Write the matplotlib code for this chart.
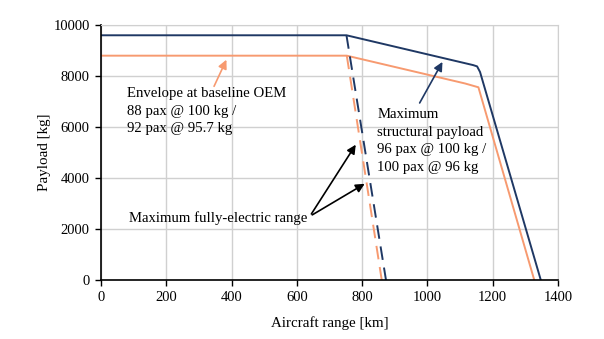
import matplotlib
matplotlib.use('Agg')
from matplotlib import pyplot as plt

# payload-range envelopes (km, kg)
max_range = [0, 752, 1140, 1152, 1161, 1347]
max_payload = [9600, 9600, 8430, 8380, 8160, 0]
oem_range = [0, 753, 1115, 1156, 1327]
oem_payload = [8800, 8800, 7710, 7560, 0]

# fully-electric limits
elec_max_range = [752, 873]
elec_max_payload = [9600, 0]
elec_oem_range = [753, 860]
elec_oem_payload = [8800, 0]

xticks = [0, 200, 400, 600, 800, 1000, 1200, 1400]
yticks = [0, 2000, 4000, 6000, 8000, 10000]

navy = '#1F3864'
orange = '#F79A70'

plt.rcParams['font.family'] = 'Liberation Serif'
plt.rcParams['font.size'] = 10.5

fig = plt.figure(figsize=(6.04, 3.39), dpi=100)
ax = fig.add_axes([0.167, 0.174, 0.757, 0.752])

ax.plot(max_range, max_payload, color=navy, lw=1.4)
ax.plot(oem_range, oem_payload, color=orange, lw=1.4)
ax.plot(elec_max_range, elec_max_payload, color=navy, lw=1.4, dashes=(7, 4))
ax.plot(elec_oem_range, elec_oem_payload, color=orange, lw=1.4, dashes=(7, 4))

ax.set_xlim(0, 1400)
ax.set_ylim(0, 10000)
ax.set_xticks(xticks)
ax.set_yticks(yticks)
ax.grid(True, color='#D0D0D0', lw=1)
ax.set_axisbelow(True)
for s in ['top', 'right']:
    ax.spines[s].set_color('#D0D0D0')
for s in ['left', 'bottom']:
    ax.spines[s].set_linewidth(1.2)
ax.tick_params(length=4, width=1, direction='out', labelsize=10.5, pad=4)

ax.set_xlabel('Aircraft range [km]', fontsize=10.8, labelpad=9)
ax.set_ylabel('Payload [kg]', fontsize=10.8, labelpad=2)

tk = dict(va='top', ha='left', linespacing=1.45, fontsize=10.6)
ax.text(80, 7560, 'Envelope at baseline OEM\n88 pax @ 100 kg /\n92 pax @ 95.7 kg', **tk)
ax.annotate('', xy=(388, 8740), xytext=(343, 7500),
            arrowprops=dict(arrowstyle='-|>', color=orange, lw=1.2, mutation_scale=13))

ax.text(846, 6730, 'Maximum\nstructural payload\n96 pax @ 100 kg /\n100 pax @ 96 kg', **tk)
ax.annotate('', xy=(1050, 8650), xytext=(972, 6850),
            arrowprops=dict(arrowstyle='-|>', color=navy, lw=1.2, mutation_scale=13))

ax.text(86, 2430, 'Maximum fully-electric range', va='center', ha='left', fontsize=10.6)
ax.annotate('', xy=(785, 5400), xytext=(640, 2500),
            arrowprops=dict(arrowstyle='-|>', color='black', lw=1.2, mutation_scale=13))
ax.annotate('', xy=(815, 3830), xytext=(640, 2500),
            arrowprops=dict(arrowstyle='-|>', color='black', lw=1.2, mutation_scale=13))

fig.savefig('out.png', dpi=100)
